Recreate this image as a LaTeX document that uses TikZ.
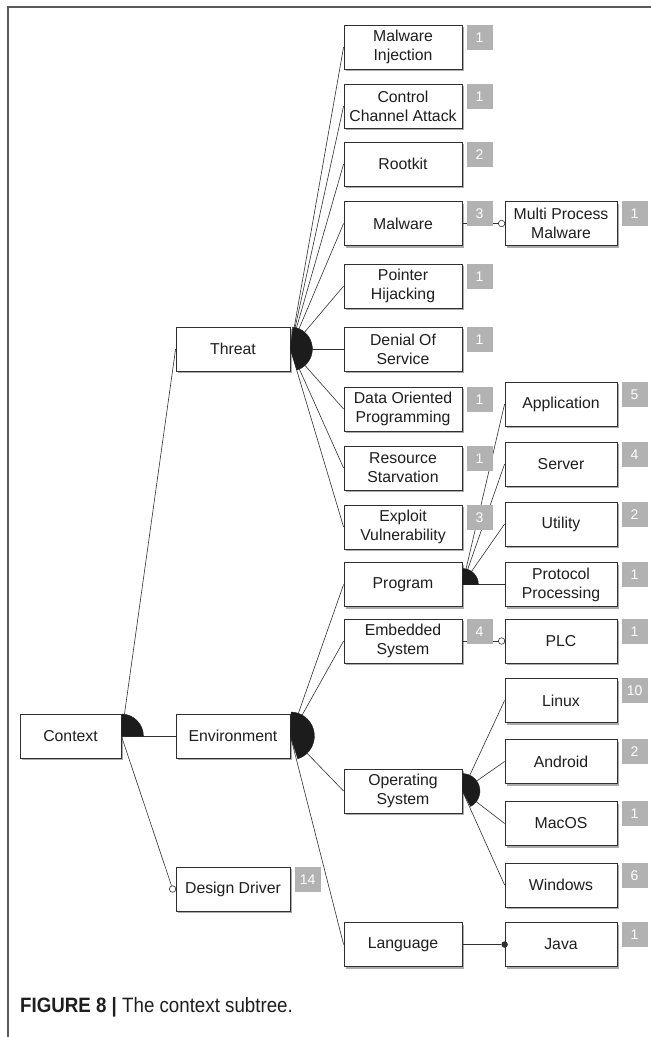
\documentclass[tikz,border=0pt]{standalone}
\usepackage{fontspec}
\setmainfont{Liberation Sans}
\newfontfamily\capfont[FakeStretch=0.9]{Liberation Sans}
\usetikzlibrary{shadows}
\definecolor{framegray}{HTML}{5A5A5A}
\definecolor{boxline}{HTML}{303030}
\definecolor{inktext}{HTML}{1E1E1E}
\definecolor{badgegray}{HTML}{B2B2B2}
\definecolor{groupfill}{HTML}{1C1C1C}

\begin{document}
\begin{tikzpicture}[x=1pt,y=1pt,
  feat/.style={draw=boxline, fill=white, line width=0.8pt, minimum height=44pt,
    align=center, inner sep=0pt, text=inktext,
    font=\fontsize{15.8}{19}\selectfont,
    drop shadow={shadow xshift=2pt, shadow yshift=-2pt, fill=black!55, opacity=0.6}},
  leftbox/.style={feat, minimum width=114pt},
  midbox/.style={feat, minimum width=118pt},
  rightbox/.style={feat, minimum width=112pt},
  ctxbox/.style={feat, minimum width=101pt},
  badge/.style={fill=badgegray, text=white, minimum width=26pt, minimum height=25pt,
    inner sep=0pt, anchor=north west, xshift=4pt, font=\fontsize{14}{14}\selectfont},
  link/.style={draw=boxline, line width=0.6pt},
  sector/.style={fill=groupfill, draw=groupfill, line width=0.4pt},
  optcirc/.style={circle, draw=boxline, fill=white, line width=0.6pt, minimum size=6.5pt, inner sep=0pt},
  mandot/.style={circle, fill=boxline, minimum size=6.5pt, inner sep=0pt}
]
\useasboundingbox (0,0) rectangle (651,-1037);

% frame
\draw[framegray, line width=1.3pt] (8,-1037) -- (8,-7) -- (651,-7);

% first level
\node[ctxbox]  (ctx) at (70.5,-736) {Context};
\node[leftbox] (thr) at (233,-349) {Threat};
\node[leftbox] (env) at (233,-736) {Environment};
\node[leftbox] (dd)  at (233,-889) {Design Driver};

% threat children
\node[midbox] (mi)  at (403,-47)    {Malware\\Injection};
\node[midbox] (cca) at (403,-106)   {Control\\Channel Attack};
\node[midbox] (rk)  at (403,-164)   {Rootkit};
\node[midbox] (mw)  at (403,-223.5) {Malware};
\node[midbox] (ph)  at (403,-286)   {Pointer\\Hijacking};
\node[midbox] (dos) at (403,-349)   {Denial Of\\Service};
\node[midbox] (dop) at (403,-409)   {Data Oriented\\Programming};
\node[midbox] (rs)  at (403,-468)   {Resource\\Starvation};
\node[midbox] (ev)  at (403,-527)   {Exploit\\Vulnerability};

% environment children
\node[midbox] (prg) at (403,-584.5) {Program};
\node[midbox] (emb) at (403,-641)   {Embedded\\System};
\node[midbox] (os)  at (403,-791)   {Operating\\System};
\node[midbox] (lng) at (403,-944.5) {Language};

% third level
\node[rightbox] (mpm) at (561,-223.5) {Multi Process\\Malware};
\node[rightbox] (app) at (561,-404)   {Application};
\node[rightbox] (srv) at (561,-464)   {Server};
\node[rightbox] (utl) at (561,-524)   {Utility};
\node[rightbox] (pp)  at (561,-584.5) {Protocol\\Processing};
\node[rightbox] (plc) at (561,-641)   {PLC};
\node[rightbox] (lnx) at (561,-700.5) {Linux};
\node[rightbox] (and) at (561,-761.5) {Android};
\node[rightbox] (mac) at (561,-823.5) {MacOS};
\node[rightbox] (win) at (561,-885)   {Windows};
\node[rightbox] (jav) at (561,-944.5) {Java};

% connectors of the groups
\foreach \c in {thr,env} \draw[link] (ctx.east) -- (\c.west);
\foreach \c in {mi,cca,rk,mw,ph,dos,dop,rs,ev} \draw[link] (thr.east) -- (\c.west);
\foreach \c in {prg,emb,os,lng} \draw[link] (env.east) -- (\c.west);
\foreach \c in {app,srv,utl,pp} \draw[link] (prg.east) -- (\c.west);
\foreach \c in {lnx,and,mac,win} \draw[link] (os.east) -- (\c.west);

% optional and mandatory single children
\node[optcirc] (ddc)  at ([xshift=-3pt]dd.west)  {};
\node[optcirc] (mpmc) at ([xshift=-3pt]mpm.west) {};
\node[optcirc] (plcc) at ([xshift=-3pt]plc.west) {};
\node[mandot]  (javd) at (jav.west) {};
\draw[link] (ctx.east) -- (ddc);
\draw[link] (mw.east) -- (mpmc);
\draw[link] (emb.east) -- (plcc);
\draw[link] (lng.east) -- (javd);

% group arcs
\fill[sector] (ctx.east) -- ++(0:22pt) arc[start angle=0, end angle=88, radius=22pt] -- cycle;
\fill[sector] (thr.east) -- ++(-73:22pt) arc[start angle=-73, end angle=84, radius=22pt] -- cycle;
\fill[sector] (env.east) -- ++(-72:24pt) arc[start angle=-72, end angle=88, radius=24pt] -- cycle;
\fill[sector] (prg.east) -- ++(0:16pt) arc[start angle=0, end angle=88, radius=16pt] -- cycle;
\fill[sector] (os.east) -- ++(-62:17.5pt) arc[start angle=-62, end angle=88, radius=17.5pt] -- cycle;

% usage counts
\node[badge] at (dd.north east)  {14};
\node[badge] at (mi.north east)  {1};
\node[badge] at (cca.north east) {1};
\node[badge] at (rk.north east)  {2};
\node[badge] at (mw.north east)  {3};
\node[badge] at (ph.north east)  {1};
\node[badge] at (dos.north east) {1};
\node[badge] at (dop.north east) {1};
\node[badge] at (rs.north east)  {1};
\node[badge] at (ev.north east)  {3};
\node[badge] at (emb.north east) {4};
\node[badge] at (mpm.north east) {1};
\node[badge] at (app.north east) {5};
\node[badge] at (srv.north east) {4};
\node[badge] at (utl.north east) {2};
\node[badge] at (pp.north east)  {1};
\node[badge] at (plc.north east) {1};
\node[badge] at (lnx.north east) {10};
\node[badge] at (and.north east) {2};
\node[badge] at (mac.north east) {1};
\node[badge] at (win.north east) {6};
\node[badge] at (jav.north east) {1};

% caption
\node[anchor=west, inner sep=0pt, text=inktext] (cap) at (20,-1007)
  {\capfont\fontsize{20.8}{24}\selectfont\textbf{FIGURE 8 |} The context subtree.};
\end{tikzpicture}
\end{document}
